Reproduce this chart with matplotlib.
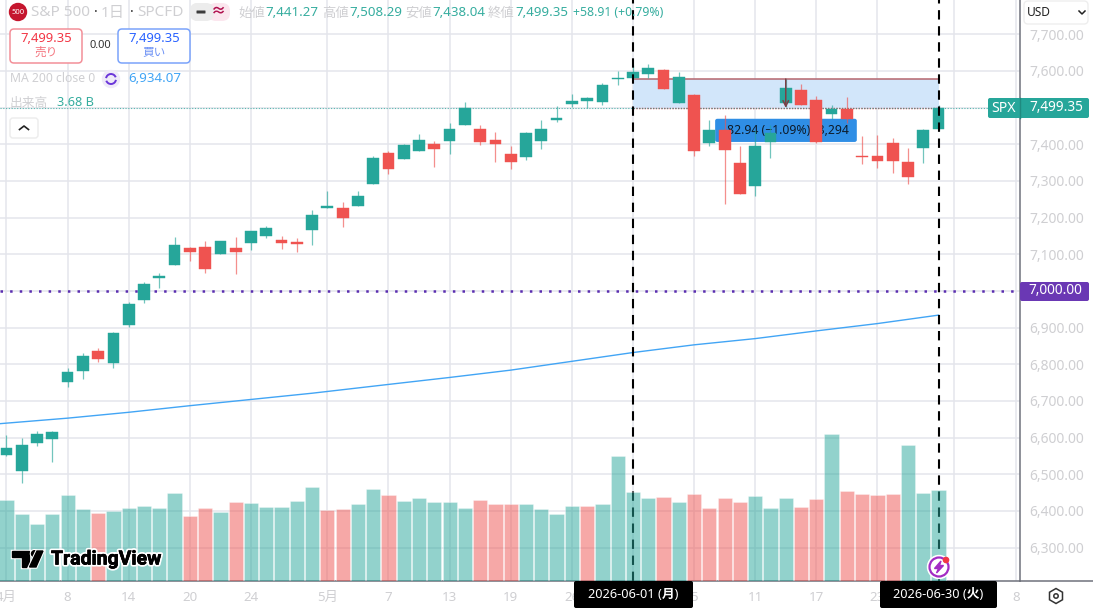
import matplotlib
matplotlib.use("Agg")
import matplotlib.pyplot as plt
from matplotlib.patches import FancyBboxPatch, Rectangle, Circle, Arc, Polygon, RegularPolygon
import matplotlib.patheffects as pe

plt.rcParams['font.family'] = ['Noto Sans', 'Noto Sans CJK JP', 'DejaVu Sans']

opens = [6552, 6510, 6586, 6597, 6751, 6781, 6837, 6803, 6908, 6976, 7034, 7072, 7116, 7121, 7100, 7116,
         7132, 7150, 7138, 7134, 7165, 7227, 7227, 7231, 7291, 7376, 7359, 7383, 7400, 7408, 7452, 7443,
         7413, 7373, 7366, 7408, 7466, 7511, 7519, 7516, 7577, 7580, 7593, 7604, 7514, 7535, 7403, 7438,
         7350, 7285, 7407, 7514, 7548, 7522, 7484, 7497, 7366, 7369, 7404, 7351, 7391, 7441.27]
highs = [6608, 6600, 6617, 6617, 6791, 6832, 6843, 6887, 6969, 7025, 7050, 7147, 7121, 7136, 7137, 7147,
         7164, 7178, 7151, 7145, 7220, 7272, 7243, 7272, 7367, 7381, 7400, 7429, 7409, 7459, 7516, 7452,
         7433, 7394, 7434, 7465, 7505, 7538, 7529, 7567, 7600, 7615, 7620, 7605, 7596, 7538, 7465, 7481,
         7396, 7438, 7452, 7579, 7564, 7531, 7508, 7529, 7422, 7426, 7418, 7391, 7443, 7508.29]
lows = [6550, 6475, 6578, 6533, 6739, 6759, 6807, 6789, 6903, 6967, 7008, 7072, 7083, 7050, 7100, 7045,
        7112, 7145, 7114, 7106, 7126, 7226, 7174, 7231, 7291, 7320, 7359, 7383, 7337, 7374, 7452, 7397,
        7353, 7333, 7356, 7388, 7461, 7502, 7498, 7507, 7562, 7580, 7582, 7552, 7514, 7369, 7394, 7237,
        7264, 7258, 7362, 7502, 7508, 7403, 7470, 7459, 7346, 7335, 7321, 7293, 7349, 7438.04]
closes = [6572, 6581, 6609, 6615, 6780, 6822, 6814, 6885, 6965, 7020, 7040, 7125, 7106, 7061, 7136, 7106,
          7164, 7172, 7130, 7128, 7207, 7231, 7199, 7258, 7362, 7333, 7397, 7411, 7388, 7443, 7500, 7405,
          7402, 7351, 7431, 7443, 7472, 7517, 7525, 7562, 7580, 7598, 7609, 7552, 7583, 7383, 7439, 7384,
          7264, 7394, 7431, 7553, 7508, 7406, 7497, 7470, 7364, 7355, 7355, 7310, 7439, 7499.35]

volumes = [3.28, 2.71, 2.32, 2.71, 3.48, 2.90, 2.75, 2.83, 2.96, 3.03, 2.96, 3.57, 2.62, 2.94, 2.78, 3.18,
           3.15, 2.99, 2.99, 3.22, 3.80, 2.87, 2.90, 3.12, 3.71, 3.48, 3.23, 3.34, 3.19, 3.19, 2.96, 3.26,
           3.10, 3.12, 3.10, 2.90, 2.71, 3.03, 3.03, 3.12, 5.06, 3.58, 3.34, 3.38, 3.19, 3.52, 2.94, 3.35,
           3.19, 3.45, 2.94, 3.35, 2.99, 3.31, 5.94, 3.64, 3.52, 3.47, 3.52, 5.48, 3.57, 3.68]
red_volume_bars = [6, 12, 13, 15, 21, 22, 25, 31, 32, 33, 38, 43, 45, 46, 47, 48, 52, 53, 55, 56, 57, 58]

ma_idx = [-1, 4, 8, 12, 16, 20, 25, 29, 33, 37, 41, 45, 49, 53, 57, 61]
ma_values = [6636, 6653, 6669, 6687, 6704, 6721, 6745, 6764, 6784, 6808, 6832, 6853, 6870, 6891, 6911, 6934.07]

price_ticks = [6300, 6400, 6500, 6600, 6700, 6800, 6900, 7000, 7100, 7200, 7300, 7400, 7500, 7600, 7700]
# 7,000 and 7,500 are covered by the price tags, so no plain tick text there
hidden_prices = [7000, 7500]
date_ticks = [0, 4, 8, 12, 16, 21, 25, 29, 33, 37, 41, 45, 49, 53, 57, 62, 66.1]
date_labels = ['4月', '8', '14', '20', '24', '5月', '7', '13', '19', '26', '', '5', '11', '17', '23', '', '8']

range_start, range_end = 41, 61
range_low, range_high = 7499.35, 7578
last_price = 7499.35
level_7000 = 7000

GREEN = '#26a69a'
RED = '#ef5350'
GRID = '#e4e5ec'
FAINT = '#cfcfd2'
W, H = 1093, 610
BASE_Y = 581
RIGHT_X = 1020
Y_TOP, Y_BOTTOM = 7793.6, 6208.8
VOL_PER_PX = 0.04044

fig = plt.figure(figsize=(W / 100, H / 100), dpi=100, facecolor='white')
ax = fig.add_axes([0, (H - BASE_Y) / H, RIGHT_X / W, BASE_Y / H])
ax.set_xlim(-0.425, 66.33)
ax.set_ylim(Y_BOTTOM, Y_TOP)
ax.set_axisbelow(True)
ax.grid(True, color=GRID, lw=1.1)

ax.yaxis.tick_right()
ax.set_yticks(price_ticks)
ax.set_yticklabels(['' if p in hidden_prices else f'{p:,.2f}' for p in price_ticks], color=FAINT, fontsize=10)
ax.set_xticks(date_ticks)
ax.set_xticklabels(date_labels, color=FAINT, fontsize=9.6)
ax.tick_params(length=0)
ax.tick_params(axis='y', pad=7)
ax.tick_params(axis='x', pad=7)
for side in ['top', 'left']:
    ax.spines[side].set_visible(False)
for side in ['right', 'bottom']:
    ax.spines[side].set_color('#6f727c')
    ax.spines[side].set_linewidth(1.1)

# volume shares the price axes, scaled up from the bottom edge
price_per_px = (Y_TOP - Y_BOTTOM) / BASE_Y
for i, v in enumerate(volumes):
    c = RED if i in red_volume_bars else GREEN
    ax.bar(i, v / VOL_PER_PX * price_per_px, bottom=Y_BOTTOM, width=0.93, color=c, alpha=0.5,
           edgecolor='white', linewidth=0.4, zorder=6)

# measuring tool
ax.add_patch(Rectangle((range_start, range_low), range_end - range_start, range_high - range_low,
                       facecolor='#d2e6fa', edgecolor='none', zorder=1))
ax.plot([range_start, range_end], [range_high, range_high], color='#b5666e', lw=1.1, zorder=1.5)
ax.plot([range_start, range_end], [range_low, range_low], color='#d9434e', lw=1.0, ls=(0, (1, 1)), zorder=1.5)

ax.axhline(last_price, color=GREEN, lw=0.8, ls=(0, (1, 1.5)), alpha=0.75, zorder=1.6)
ax.axhline(level_7000, color='#5a2db0', lw=1.8, ls=(0, (1, 2.85)), zorder=3)
ax.plot(ma_idx, ma_values, color='#42a5f5', lw=1.0, zorder=3)

# candles
for i in range(len(opens)):
    c = GREEN if closes[i] >= opens[i] else RED
    ax.vlines(i, lows[i], highs[i], color=c, lw=0.9, alpha=0.65, zorder=3.5)
    body = max(abs(closes[i] - opens[i]), 5)
    ax.bar(i, body, bottom=min(opens[i], closes[i]), width=0.77, color=c, edgecolor=c, linewidth=0.3, zorder=4)

ax.annotate('', xy=(51, range_low), xytext=(51, range_high),
            arrowprops=dict(arrowstyle='->', color='#7c3f45', lw=1.1, shrinkA=0, shrinkB=0), zorder=4.5)

for x in [range_start, range_end]:
    ax.axvline(x, color='black', lw=1.5, ls=(0, (4.5, 3.2)), zorder=5)

# interface overlay, laid out in pixels
ui = fig.add_axes([0, 0, 1, 1], zorder=10)
ui.set_xlim(0, W)
ui.set_ylim(H, 0)
ui.axis('off')


def box(x0, y0, x1, y1, face, edge='none', lw=1.0, r=3, z=2, axes=ui):
    axes.add_patch(FancyBboxPatch((x0 + r, y0 + r), x1 - x0 - 2 * r, y1 - y0 - 2 * r,
                                  boxstyle=f'round,pad={r},rounding_size={r}',
                                  facecolor=face, edgecolor=edge, linewidth=lw, zorder=z))


def label(x, y, s, color, size=9.6, ha='left', weight='normal', z=3):
    ui.text(x, y, s, color=color, fontsize=size, ha=ha, va='center', fontweight=weight, zorder=z)


ui.plot([RIGHT_X, W], [BASE_Y, BASE_Y], color='#6f727c', lw=1.1)

# measure label sits under the candles, so it goes on the chart axes
to_x = lambda px: (px - 6.5) / 15.28
to_y = lambda py: 7700 - (py - 34) * 2.729
ax.add_patch(FancyBboxPatch((to_x(717), to_y(140)), to_x(855) - to_x(717), to_y(120) - to_y(140),
                            boxstyle='round,pad=0.12,rounding_size=0.15', mutation_aspect=36,
                            facecolor='#2f8ee5', edgecolor='none', zorder=2))
ax.text(to_x(786), to_y(130), '-82.94 (−1.09%) -8,294', color='#0d1b2a', fontsize=8.8,
        ha='center', va='center', zorder=2.5)

# header row
ui.add_patch(Circle((18, 12), 8.5, color='#c5162e', zorder=2))
label(18, 12, '500', 'white', size=5.5, ha='center', weight='bold')
label(31, 13, 'S&P 500', FAINT, size=11)
label(94, 13, '·', '#333333', size=10, weight='bold')
label(101, 13, '1日', FAINT, size=11)
label(130, 13, '·', '#333333', size=10, weight='bold')
label(137, 13, 'SPCFD', FAINT, size=11)
box(190, 3, 210, 21, '#ececec', r=8)
box(208, 3, 230, 21, '#fbe6ee', r=8)
box(190, 3, 214, 21, '#ececec', r=8, z=2.1)
ui.add_patch(FancyBboxPatch((197, 11), 8, 2, boxstyle='round,pad=0.5', facecolor='#3c3c3c', edgecolor='none', zorder=3))
label(219, 12, '≈', '#b0124f', size=11, ha='center', weight='bold')
for x0, name, x1, val in [(238, '始値', 265, '7,441.27'), (322, '高値', 349, '7,508.29'),
                          (405, '安値', 432, '7,438.04'), (488, '終値', 515, '7,499.35')]:
    label(x0, 13, name, FAINT, size=9.6)
    label(x1, 13, val, '#36ad9f', size=9.6)
label(573, 13, '+58.91 (+0.79%)', '#36ad9f', size=8.8)

# buy and sell buttons
box(10, 29, 82, 63, 'white', '#f38f98', lw=1.1, r=4)
label(46, 39, '7,499.35', '#f23645', size=9.4, ha='center', weight='bold')
label(46, 53, '売り', '#f4737d', size=8.4, ha='center')
label(100, 45, '0.00', '#333333', size=8, ha='center')
box(118, 29, 190, 63, 'white', '#7aa3fb', lw=1.1, r=4)
label(154, 39, '7,499.35', '#2962ff', size=9.4, ha='center', weight='bold')
label(154, 53, '買い', '#6f93f5', size=8.4, ha='center')

# indicator rows
label(10, 79, 'MA 200 close 0', FAINT, size=8.8)
ui.add_patch(Circle((111, 79), 8.5, color='#efeaf8', zorder=2))
ui.add_patch(Arc((111, 79), 10, 10, theta1=190, theta2=340, color='#6a35d9', lw=1.4, zorder=3))
ui.add_patch(Arc((111, 79), 10, 10, theta1=10, theta2=160, color='#6a35d9', lw=1.4, zorder=3))
label(128, 79, '6,934.07', '#42a5f5', size=9.6)
label(10, 104, '出来高', FAINT, size=9.2)
label(57, 103, '3.68 B', '#36ad9f', size=9.2)
box(10, 118, 38, 138, 'white', '#ececec', lw=1.0, r=3)
ui.plot([19.5, 24, 28.5], [129.5, 126, 129.5], color='#222222', lw=1.2, zorder=3)

# price labels on the right axis
box(988, 98, 1089, 118, GREEN, r=2)
label(1003, 108, 'SPX', 'white', size=10.2, ha='center')
label(1056, 107.5, '7,499.35', 'white', size=9.8, ha='center', weight='bold')
ui.plot([RIGHT_X, RIGHT_X], [98, 118], color='#1f8a80', lw=1.0, zorder=2.5)
box(1020, 282, 1089, 301, '#6a38b4', r=2)
label(1055, 291, '7,000.00', 'white', size=9.8, ha='center', weight='bold')

# currency dropdown
box(1024, 1, 1088, 24, 'white', '#eeeeee', lw=1.0, r=4)
label(1027, 13, 'USD', '#222222', size=8.6)
ui.plot([1079, 1082, 1085], [11, 14, 11], color='#222222', lw=1.1, zorder=3)

# time scale labels at the crosshair ends
box(574, 581, 693, 608, 'black', r=2)
label(633.5, 595, '2026-06-01 (月)', 'white', size=9.2, ha='center', weight='bold')
box(880, 581, 997, 608, 'black', r=2)
label(938.5, 595, '2026-06-30 (火)', 'white', size=9.2, ha='center', weight='bold')

# settings icon
ui.add_patch(RegularPolygon((1056, 596), 6, radius=7.5, facecolor='white', edgecolor='#333333', lw=1.1, zorder=3))
ui.add_patch(Circle((1056, 596), 2.2, facecolor='white', edgecolor='#333333', lw=1.1, zorder=4))

# alert badge
ui.add_patch(Circle((939, 567), 11.5, color='white', zorder=2))
ui.add_patch(Circle((939, 567), 9.5, facecolor='white', edgecolor='#a32cc4', lw=1.6, zorder=3))
ui.add_patch(Polygon([(941, 561), (934.5, 568.5), (938.5, 568.5), (936.5, 573), (943.5, 565.5), (939.5, 565.5)],
                     color='#a32cc4', zorder=4))
ui.add_patch(Circle((946, 560), 2.6, color='#f23645', zorder=5))

# watermark, the black stroke thickens the letters
outline = [pe.withStroke(linewidth=2.5, foreground='white')]
logo = [Polygon([(12, 551), (29, 551), (29, 567), (22, 567), (22, 557), (12, 557)], color='black', zorder=4),
        Circle((34.5, 553.7), 3, color='black', zorder=4),
        Polygon([(37, 551), (43, 551), (36, 567), (29.5, 567)], color='black', zorder=4)]
for p in logo:
    p.set_path_effects(outline)
    ui.add_patch(p)
ui.text(51, 559.5, 'TradingView', color='black', fontsize=14, fontweight='bold', family='Roboto',
        va='center', ha='left', zorder=4,
        path_effects=[pe.withStroke(linewidth=3, foreground='white'), pe.withStroke(linewidth=0.4, foreground='black')])

fig.savefig('out.png', dpi=100)
